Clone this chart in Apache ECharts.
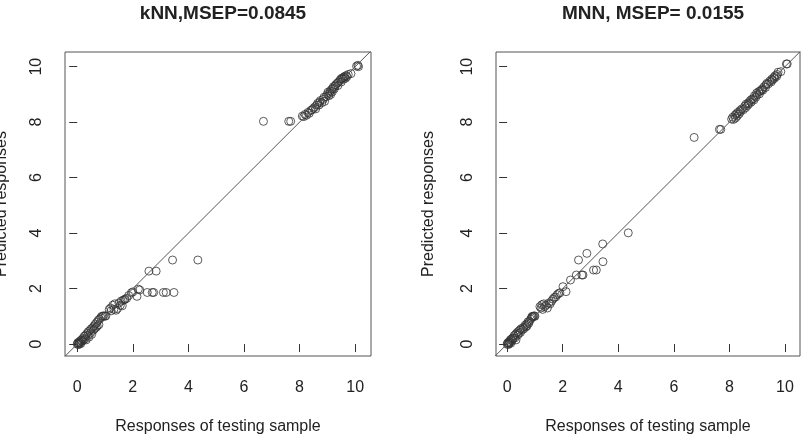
<!DOCTYPE html>
<html>
<head>
<meta charset="utf-8">
<script src="https://cdn.jsdelivr.net/npm/echarts@6/dist/echarts.min.js"></script>
<style>
  html, body { margin: 0; padding: 0; background: #fff; }
  #chart { width: 804px; height: 438px; }
</style>
</head>
<body>
<div id="chart"></div>
<script>
// panel titles and axis texts
const TITLES = ['kNN,MSEP=0.0845', 'MNN, MSEP= 0.0155']
const X_NAME = 'Responses of testing sample'
const Y_NAME = 'Predicted responses'
const TICKS = [0, 2, 4, 6, 8, 10]

// kNN: responses of testing sample (x) vs predicted (y)
const knnResp = [
  0.00, 0.02, 0.04, 0.05, 0.07, 0.08, 0.10, 0.12, 0.13, 0.15, 0.17, 0.20, 0.22, 0.25, 0.27, 0.30,
  0.32, 0.35, 0.38, 0.40, 0.42, 0.45, 0.48, 0.50, 0.52, 0.55, 0.58, 0.60, 0.62, 0.65, 0.68, 0.70,
  0.72, 0.75, 0.78, 0.80, 0.85, 0.88, 0.92, 0.95, 1.00, 1.03, 1.15, 1.20, 1.22, 1.28, 1.32, 1.35,
  1.40, 1.45, 1.50, 1.55, 1.58, 1.62, 1.65, 1.70, 1.72, 1.78, 1.85, 1.95, 2.00, 2.15, 2.20, 2.25,
  2.52, 2.70, 2.75, 3.10, 3.20, 3.48, 2.58, 2.84, 3.43, 4.34, 6.70, 7.61, 7.68,
  8.10, 8.15, 8.20, 8.25, 8.30, 8.35, 8.40, 8.45, 8.50, 8.55, 8.58, 8.62, 8.65, 8.70, 8.72, 8.75,
  8.80, 8.85, 8.88, 8.90, 8.95, 9.00, 9.02, 9.05, 9.08, 9.10, 9.12, 9.15, 9.18, 9.20, 9.22, 9.25,
  9.28, 9.30, 9.35, 9.38, 9.40, 9.45, 9.48, 9.50, 9.52, 9.55, 9.58, 9.60, 9.62, 9.65, 9.68, 9.70,
  9.75, 9.85, 10.05, 10.10, 10.12
]
const knnPred = [
  0.00, 0.05, -0.02, 0.03, 0.08, 0.00, 0.06, 0.12, 0.02, 0.15, 0.10, 0.20, 0.14, 0.28, 0.18, 0.32,
  0.15, 0.38, 0.30, 0.45, 0.25, 0.48, 0.40, 0.55, 0.35, 0.58, 0.50, 0.65, 0.55, 0.72, 0.60, 0.78,
  0.65, 0.85, 0.70, 0.90, 0.95, 1.00, 1.00, 1.02, 1.00, 1.02, 1.25, 1.30, 1.20, 1.40, 1.25, 1.45,
  1.22, 1.28, 1.48, 1.40, 1.55, 1.38, 1.58, 1.60, 1.62, 1.65, 1.75, 1.85, 1.88, 1.72, 1.98, 1.95,
  1.86, 1.86, 1.86, 1.86, 1.86, 1.86, 2.63, 2.63, 3.03, 3.03, 8.03, 8.03, 8.03,
  8.22, 8.20, 8.28, 8.25, 8.35, 8.32, 8.42, 8.45, 8.50, 8.55, 8.48, 8.62, 8.68, 8.62, 8.72, 8.78,
  8.70, 8.82, 8.90, 8.75, 8.92, 9.00, 9.08, 8.95, 9.05, 9.12, 9.00, 9.18, 9.10, 9.22, 9.28, 9.20,
  9.30, 9.35, 9.40, 9.32, 9.45, 9.50, 9.55, 9.45, 9.58, 9.60, 9.55, 9.62, 9.65, 9.58, 9.68, 9.64,
  9.72, 9.75, 10.02, 10.05, 10.00
]

// MNN
const mnnResp = [
  0.00, 0.02, 0.04, 0.05, 0.07, 0.08, 0.10, 0.12, 0.13, 0.15, 0.18, 0.20, 0.22, 0.25, 0.28, 0.30,
  0.32, 0.35, 0.38, 0.40, 0.42, 0.45, 0.48, 0.50, 0.55, 0.58, 0.60, 0.65, 0.68, 0.70, 0.72, 0.75,
  0.78, 0.80, 0.85, 0.88, 0.90, 0.92, 0.95, 0.98, 1.00, 1.18, 1.22, 1.25, 1.28, 1.32, 1.35, 1.40,
  1.45, 1.50, 1.55, 1.60, 1.65, 1.70, 1.75, 1.80, 1.85, 1.90, 2.01, 2.12, 2.28, 2.49, 2.69, 2.73,
  2.57, 2.87, 3.11, 3.21, 3.44, 3.45, 4.36, 6.73, 7.64, 7.69,
  8.08, 8.12, 8.15, 8.20, 8.22, 8.25, 8.28, 8.30, 8.35, 8.38, 8.40, 8.45, 8.50, 8.55, 8.58, 8.60,
  8.65, 8.68, 8.70, 8.75, 8.78, 8.80, 8.85, 8.88, 8.90, 8.95, 8.98, 9.00, 9.05, 9.08, 9.10, 9.15,
  9.18, 9.20, 9.25, 9.30, 9.32, 9.35, 9.40, 9.45, 9.50, 9.52, 9.55, 9.60, 9.62, 9.65, 9.70, 9.72,
  9.75, 9.85, 10.05, 10.08
]
const mnnPred = [
  0.00, 0.04, -0.02, 0.05, 0.02, 0.10, 0.06, 0.15, 0.03, 0.18, 0.12, 0.22, 0.20, 0.30, 0.22, 0.35,
  0.15, 0.40, 0.32, 0.45, 0.38, 0.50, 0.42, 0.55, 0.52, 0.60, 0.55, 0.68, 0.62, 0.72, 0.66, 0.80,
  0.75, 0.82, 0.90, 0.95, 1.00, 0.98, 1.00, 1.02, 1.00, 1.35, 1.30, 1.42, 1.25, 1.45, 1.35, 1.40,
  1.30, 1.48, 1.45, 1.55, 1.62, 1.68, 1.70, 1.78, 1.82, 1.85, 2.07, 1.89, 2.31, 2.49, 2.49, 2.49,
  3.03, 3.27, 2.67, 2.67, 3.61, 2.97, 4.01, 7.45, 7.74, 7.74,
  8.11, 8.18, 8.10, 8.25, 8.15, 8.30, 8.22, 8.35, 8.30, 8.42, 8.38, 8.48, 8.45, 8.58, 8.52, 8.65,
  8.60, 8.70, 8.66, 8.78, 8.72, 8.82, 8.85, 8.80, 8.95, 8.90, 9.05, 8.98, 9.10, 9.02, 9.12, 9.15,
  9.20, 9.15, 9.28, 9.25, 9.35, 9.40, 9.38, 9.48, 9.45, 9.55, 9.52, 9.62, 9.58, 9.68, 9.65, 9.72,
  9.80, 9.82, 10.10, 10.10
]

// y = x reference line, clipped to the plot box
const ABLINE = [-1, 11]

const zip = (xs, ys) => xs.map((x, i) => [x, ys[i]])

const chart = echarts.init(document.getElementById('chart'), null, { renderer: 'canvas' })

const FONT = 'Liberation Sans, Arial, sans-serif'
const INK = '#222'

const grids = [
  { left: 65, top: 52, width: 306, height: 304 },
  { left: 496, top: 52, width: 304, height: 304 },
]
const xRanges = [[-0.44, 10.57], [-0.40, 10.54]]
const yRanges = [[-0.43, 10.53], [-0.43, 10.53]]
const yNameGaps = [55, 59]

const axisBase = {
  type: 'value',
  axisLine: { show: false },
  splitLine: { show: false },
  axisTick: { show: true, length: 8, customValues: TICKS, lineStyle: { color: '#333' } },
  nameLocation: 'middle',
  nameTextStyle: { color: INK, fontSize: 16, fontFamily: FONT },
}

const option = {
  backgroundColor: '#fff',
  animation: false,
  title: TITLES.map((t, i) => ({
    text: t,
    left: i === 0 ? 218 : 648,
    top: -1,
    textAlign: 'center',
    textStyle: { fontSize: 19, fontWeight: 'bold', color: INK, fontFamily: FONT },
  })),
  grid: grids.map(g => ({
    ...g,
    containLabel: false,
    outerBoundsMode: 'none',
    show: true,
    borderColor: '#555',
    borderWidth: 1,
    backgroundColor: 'transparent',
  })),
  xAxis: grids.map((g, i) => ({
    ...axisBase,
    gridIndex: i,
    min: xRanges[i][0],
    max: xRanges[i][1],
    name: X_NAME,
    nameGap: 63,
    axisLabel: { customValues: TICKS, margin: 24, fontSize: 16, color: INK, fontFamily: FONT },
  })),
  yAxis: grids.map((g, i) => ({
    ...axisBase,
    gridIndex: i,
    min: yRanges[i][0],
    max: yRanges[i][1],
    name: Y_NAME,
    nameGap: yNameGaps[i],
    nameRotate: 90,
    axisLabel: { customValues: TICKS, rotate: 90, margin: 20, fontSize: 16, color: INK, fontFamily: FONT },
  })),
  series: [
    [knnResp, knnPred],
    [mnnResp, mnnPred],
  ].flatMap(([xs, ys], i) => [
    {
      type: 'line',
      xAxisIndex: i,
      yAxisIndex: i,
      data: zip(ABLINE, ABLINE),
      clip: true,
      symbol: 'none',
      lineStyle: { color: '#555', width: 1 },
      silent: true,
    },
    {
      type: 'scatter',
      xAxisIndex: i,
      yAxisIndex: i,
      data: zip(xs, ys),
      symbol: 'circle',
      symbolSize: 8,
      itemStyle: { color: 'rgba(0,0,0,0)', borderColor: '#333', borderWidth: 1 },
    },
  ]),
}

chart.setOption(option)
</script>
</body>
</html>
